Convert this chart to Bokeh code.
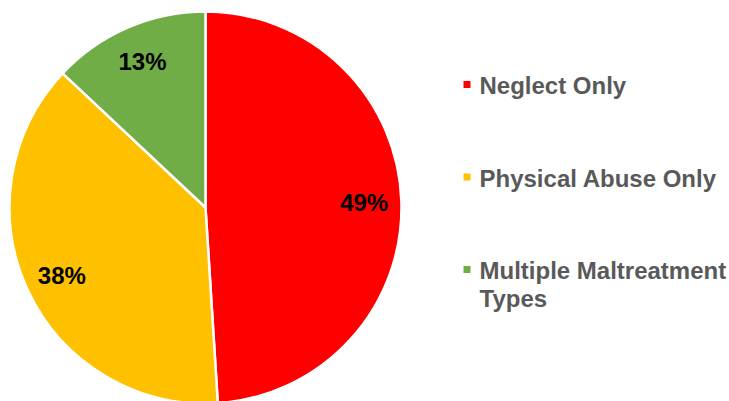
import math
from bokeh.plotting import figure
from bokeh.models import ColumnDataSource
from bokeh.core.properties import value
from bokeh.embed import file_html
from bokeh.resources import INLINE

categories = ["Neglect Only", "Physical Abuse Only", "Multiple Maltreatment Types"]
legend_lines = [["Neglect Only"], ["Physical Abuse Only"], ["Multiple Maltreatment", "Types"]]
percents = [49, 38, 13]
colors = ["#FF0000", "#FFC000", "#70AD47"]

W, H = 729, 401
p = figure(width=W, height=H, x_range=(0, W), y_range=(0, H),
           output_backend="svg", toolbar_location=None, min_border=0)
p.axis.visible = False
p.grid.visible = False
p.outline_line_color = None
p.background_fill_color = "white"

cx, cy, r = 205, 194, 196
total = sum(percents)
starts, ends, lx, ly, labels = [], [], [], [], []
a = math.pi / 2
for v in percents:
    sweep = 2 * math.pi * v / total
    starts.append(a)
    ends.append(a - sweep)
    mid = a - sweep / 2
    d = 0.81 * r
    lx.append(cx + d * math.cos(mid))
    ly.append(cy + d * math.sin(mid))
    labels.append(f"{v}%")
    a -= sweep

src = ColumnDataSource(dict(start=starts, end=ends, color=colors))
p.wedge(x=cx, y=cy, radius=r, start_angle="start", end_angle="end",
        direction="clock", fill_color="color", line_color="white",
        line_width=2.5, source=src)

p.text(x=lx, y=ly, text=labels, text_font=value("Liberation Sans"),
       text_font_style="bold", text_font_size="24px", text_color="black",
       text_align="center", text_baseline="middle")

# legend
lg_x, lg_top, lg_step, line_h = 479, 316, 92.5, 28
for i, (lines, c) in enumerate(zip(legend_lines, colors)):
    y0 = lg_top - i * lg_step
    p.rect(x=lg_x - 12.5, y=y0 + 1, width=7, height=7, fill_color=c, line_color=None)
    for j, t in enumerate(lines):
        p.text(x=[lg_x], y=[y0 - j * line_h], text=[t],
               text_font=value("Liberation Sans"), text_font_style="bold",
               text_font_size="24px", text_color="#595959",
               text_align="left", text_baseline="middle")

open("out.html", "w").write(file_html(p, INLINE))
